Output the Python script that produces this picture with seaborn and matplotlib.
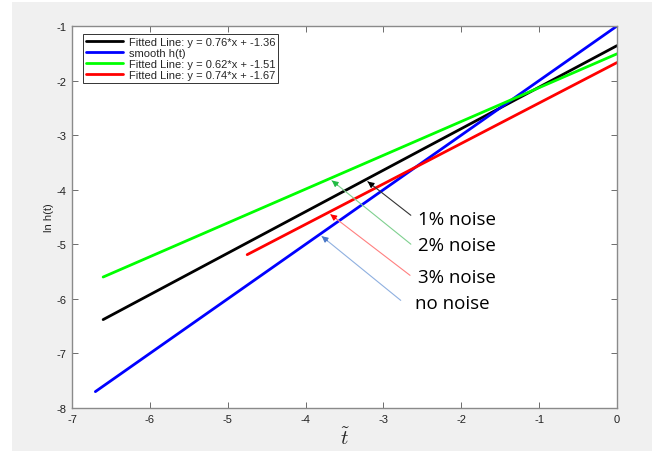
import matplotlib
matplotlib.use('Agg')
import matplotlib.pyplot as plt
import seaborn as sns
from matplotlib.patches import Rectangle

# 数据：各条直线的端点
black_x = [-6.6, 0.0]
black_y = [-6.38, -1.36]
blue_x = [-6.7, 0.0]
blue_y = [-7.7, -1.0]
green_x = [-6.6, 0.0]
green_y = [-5.60, -1.51]
red_x = [-4.75, 0.0]
red_y = [-5.19, -1.67]

labels = ['Fitted Line: y = 0.76*x + -1.36', 'smooth h(t)',
          'Fitted Line: y = 0.62*x + -1.51', 'Fitted Line: y = 0.74*x + -1.67']

# 注释：文字、文字位置、箭头尾部、箭头头部位置
notes = ['1% noise', '2% noise', '3% noise', 'no noise']
text_xy = [(-2.56, -4.54), (-2.56, -5.02), (-2.56, -5.60), (-2.59, -6.08)]
tail_xy = [(-2.62, -4.50), (-2.62, -5.03), (-2.63, -5.60), (-2.75, -6.06)]
head_xy = [(-3.23, -3.82), (-3.69, -3.80), (-3.71, -4.42), (-3.82, -4.82)]

sns.set_style('ticks')
plt.rcParams['font.family'] = ['Liberation Sans', 'DejaVu Sans']
plt.rcParams['mathtext.fontset'] = 'cm'
plt.rcParams['axes.unicode_minus'] = False

fig = plt.figure(figsize=(6.58, 4.52), dpi=100)
fig.patch.set_facecolor('white')
bg = Rectangle((12 / 658, 0), 640 / 658, 449 / 452,
               transform=fig.transFigure, facecolor='#f0f0f0',
               edgecolor='none', zorder=-10)
fig.patches.append(bg)
ax = fig.add_axes([72 / 658, 1 - 409 / 452, 545 / 658, 382 / 452])
ax.set_facecolor('white')

series = [(black_x, black_y, 'black'), (blue_x, blue_y, '#0000ff'),
          (green_x, green_y, '#00ff00'), (red_x, red_y, '#ff0000')]
for (xs, ys, c), lab in zip(series, labels):
    sns.lineplot(x=xs, y=ys, color=c, linewidth=2.0, label=lab, ax=ax, sort=False)

ax.set_xlim(-7, 0)
ax.set_ylim(-8, -1)
ax.set_xticks(range(-7, 1))
ax.set_yticks(range(-8, 0))
ax.tick_params(direction='in', length=4, width=0.6, color='#555555',
               labelsize=8, top=True, right=True, pad=4, labelcolor='#222222')
for s in ax.spines.values():
    s.set_color('#8a8a8a')
    s.set_linewidth(1.0)

ax.set_xlabel(r'$\tilde{t}$', fontsize=15, labelpad=2)
ax.set_ylabel('ln h(t)', fontsize=8, labelpad=2)

leg = ax.legend(loc='upper left', fontsize=8, frameon=True, fancybox=False,
                edgecolor='black', handlelength=3.4, borderpad=0.25,
                labelspacing=0.1, handletextpad=0.5, borderaxespad=0,
                bbox_to_anchor=(0.02, 0.979))
leg.get_frame().set_linewidth(0.7)

arrow_line = ['#333333', '#7fd08f', '#ff8080', '#8fb0e0']
arrow_head = ['black', '#22bb44', '#ff0000', '#4a78c8']
for txt, (x0, y0), (tx, ty), (hx, hy), lc, hc in zip(notes, text_xy, tail_xy, head_xy,
                                                     arrow_line, arrow_head):
    ax.annotate('', xy=(hx, hy), xytext=(tx, ty),
                arrowprops=dict(arrowstyle='-', color=lc, lw=0.8))
    ax.annotate('', xy=(hx, hy), xytext=(hx + 0.12 * (tx - hx), hy + 0.12 * (ty - hy)),
                arrowprops=dict(arrowstyle='-|>', color=hc, lw=0.8,
                                mutation_scale=9))
    ax.text(x0, y0, txt, fontsize=13.5, family=['Open Sans', 'DejaVu Sans'],
            ha='left', va='center', color='black')

fig.savefig('out.png', dpi=100)
